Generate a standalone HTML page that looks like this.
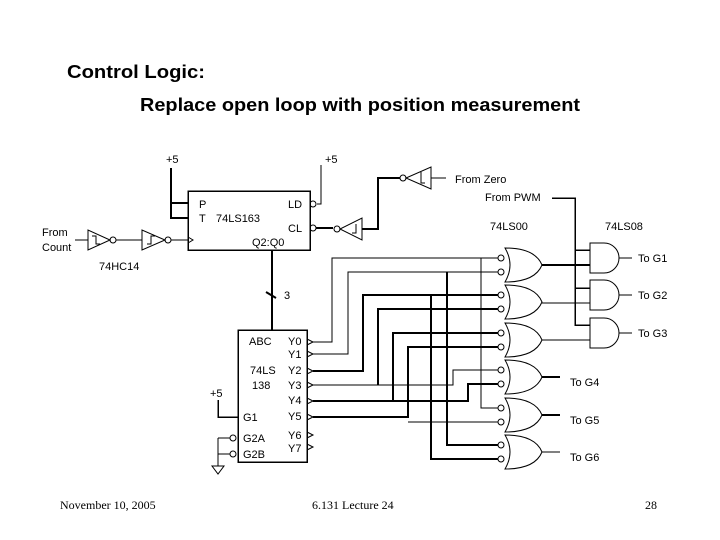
<!DOCTYPE html>
<html><head><meta charset="utf-8"><style>
html,body{margin:0;padding:0;background:#fff;}
svg{display:block;}
text{font-family:"Liberation Sans",sans-serif;}
.s{font-size:11px;fill:#000;}
</style></head><body>
<svg width="720" height="540" viewBox="0 0 720 540" xmlns="http://www.w3.org/2000/svg">
<text x="67" y="78" font-size="18" font-weight="bold" textLength="138" lengthAdjust="spacingAndGlyphs">Control Logic:</text>
<text x="140" y="111" font-size="18" font-weight="bold" textLength="440" lengthAdjust="spacingAndGlyphs">Replace open loop with position measurement</text>
<text x="60" y="509" font-size="12" style="font-family:'Liberation Serif',serif">November 10, 2005</text>
<text x="312" y="509" font-size="12" style="font-family:'Liberation Serif',serif">6.131 Lecture 24</text>
<text x="645" y="509" font-size="12" style="font-family:'Liberation Serif',serif">28</text>

<g stroke="#000" fill="none" stroke-width="1">
<g shape-rendering="crispEdges">
<rect x="188" y="191" width="122" height="59" stroke-width="1.5"/>
<path d="M171 168 V218 H188 M171 203 H188" stroke-width="2"/>
<path d="M321 165 V204 H317" />
<path d="M316 228 H333" stroke-width="2"/>
<path d="M272 250 V330" stroke-width="2"/>
<path d="M75 240 H88 M116 240 H142 M171 240 H188"/>
<path d="M362 229 H378 V178 H400" stroke-width="2"/>
<path d="M431 178 H446"/>
<path d="M552 198 H575 V325 H590 M575 250 H590 M575 288 H590" stroke-width="1.5"/>
<path d="M619 258 H632 M619 295 H632 M619 333 H632"/>
<path d="M542 265 H590" stroke-width="2"/>
<path d="M542 303 H590"/>
<path d="M542 340 H590"/>
<path d="M542 377 H560" stroke-width="2"/>
<path d="M542 415 H560" stroke-width="2"/>
<path d="M542 452 H560"/>
<rect x="238" y="330" width="69" height="132" stroke-width="1.5"/>
<path d="M218 400 V417 H238" stroke-width="1.5"/>
<path d="M218 438 V466 M218 438 H230 M218 454 H230"/>
<path d="M313 342 H332 V258 H498"/>
<path d="M313 354 H348 V272 H498"/>
<path d="M313 371 H363 V295 H498" stroke-width="2"/>
<path d="M378 385 V309 H498" stroke-width="2"/>
<path d="M313 385 H453 V370 H498"/>
<path d="M313 401 H468 V384 H498" stroke-width="2"/>
<path d="M393 401 V333 H498" stroke-width="2"/>
<path d="M313 417 H408 V347 H498" stroke-width="2"/>
<path d="M408 422 H498"/>
<path d="M481 258 V408 H498"/>
<path d="M447 272 V445 H498" stroke-width="2"/>
<path d="M431 295 V459 H498" stroke-width="2"/>
</g>
<circle cx="313" cy="204" r="3"/>
<circle cx="313" cy="228" r="3"/>
<path d="M266 292 L276 298" stroke-width="2"/>
<path d="M88 230 V250 L110 240 Z"/>
<circle cx="113" cy="240" r="3"/>
<path d="M142 230 V250 L165 240 Z"/>
<circle cx="168" cy="240" r="3"/>
<path d="M188 237 L193 240 L188 243"/>
<path d="M92 236 H96 V244 H100" />
<path d="M147 244 H151 V236 H155" />
<path d="M362 218 V240 L340 229 Z"/>
<circle cx="337" cy="229" r="3"/>
<circle cx="403" cy="178" r="3"/>
<path d="M431 167 V189 L406 178 Z"/>
<path d="M352 233 H356 V224 M425 183 H421 V172"/>
<path d="M590 243 H604 A15 15 0 0 1 604 273 H590 Z"/>
<path d="M590 280 H604 A15 15 0 0 1 604 310 H590 Z"/>
<path d="M590 318 H604 A15 15 0 0 1 604 348 H590 Z"/>
<g id="or">
<path d="M505 248 Q535 248 542 265 Q535 282 505 282 Q515 265 505 248 Z"/>
</g>
<use href="#or" y="37"/><use href="#or" y="75"/><use href="#or" y="112"/><use href="#or" y="150"/><use href="#or" y="187"/>
<g fill="#fff">
<circle cx="501" cy="258" r="3"/><circle cx="501" cy="272" r="3"/>
<circle cx="501" cy="295" r="3"/><circle cx="501" cy="309" r="3"/>
<circle cx="501" cy="333" r="3"/><circle cx="501" cy="347" r="3"/>
<circle cx="501" cy="370" r="3"/><circle cx="501" cy="384" r="3"/>
<circle cx="501" cy="408" r="3"/><circle cx="501" cy="422" r="3"/>
<circle cx="501" cy="445" r="3"/><circle cx="501" cy="459" r="3"/>
</g>
<path d="M212 466 H224 L218 474 Z"/>
<circle cx="233" cy="438" r="3"/><circle cx="233" cy="454" r="3"/>
<g>
<path d="M307 339 L313 342 L307 345"/><path d="M307 351 L313 354 L307 357"/>
<path d="M307 368 L313 371 L307 374"/><path d="M307 382 L313 385 L307 388"/>
<path d="M307 398 L313 401 L307 404"/><path d="M307 414 L313 417 L307 420"/>
<path d="M307 432 L313 435 L307 438"/><path d="M307 444 L313 447 L307 450"/>
</g>
</g>
<g class="s">
<text x="166" y="163" class="s">+5</text>
<text x="325" y="163" class="s">+5</text>
<text x="199" y="208" class="s">P</text>
<text x="199" y="222" class="s">T</text>
<text x="216" y="222" class="s">74LS163</text>
<text x="288" y="208" class="s">LD</text>
<text x="288" y="232" class="s">CL</text>
<text x="252" y="246" class="s">Q2:Q0</text>
<text x="42" y="236" class="s">From</text>
<text x="42" y="251" class="s">Count</text>
<text x="99" y="270" class="s">74HC14</text>
<text x="284" y="299" class="s">3</text>
<text x="455" y="183" class="s">From Zero</text>
<text x="485" y="201" class="s">From PWM</text>
<text x="490" y="230" class="s">74LS00</text>
<text x="605" y="230" class="s">74LS08</text>
<text x="638" y="262" class="s">To G1</text>
<text x="638" y="299" class="s">To G2</text>
<text x="638" y="337" class="s">To G3</text>
<text x="570" y="386" class="s">To G4</text>
<text x="570" y="424" class="s">To G5</text>
<text x="570" y="461" class="s">To G6</text>
<text x="249" y="345" class="s">ABC</text>
<text x="288" y="345" class="s">Y0</text>
<text x="288" y="358" class="s">Y1</text>
<text x="250" y="374" class="s">74LS</text>
<text x="288" y="374" class="s">Y2</text>
<text x="252" y="389" class="s">138</text>
<text x="288" y="389" class="s">Y3</text>
<text x="288" y="404" class="s">Y4</text>
<text x="288" y="420" class="s">Y5</text>
<text x="288" y="439" class="s">Y6</text>
<text x="288" y="452" class="s">Y7</text>
<text x="243" y="421" class="s">G1</text>
<text x="243" y="442" class="s">G2A</text>
<text x="243" y="458" class="s">G2B</text>
<text x="210" y="397" class="s">+5</text>
</g>
</svg>
</body></html>
